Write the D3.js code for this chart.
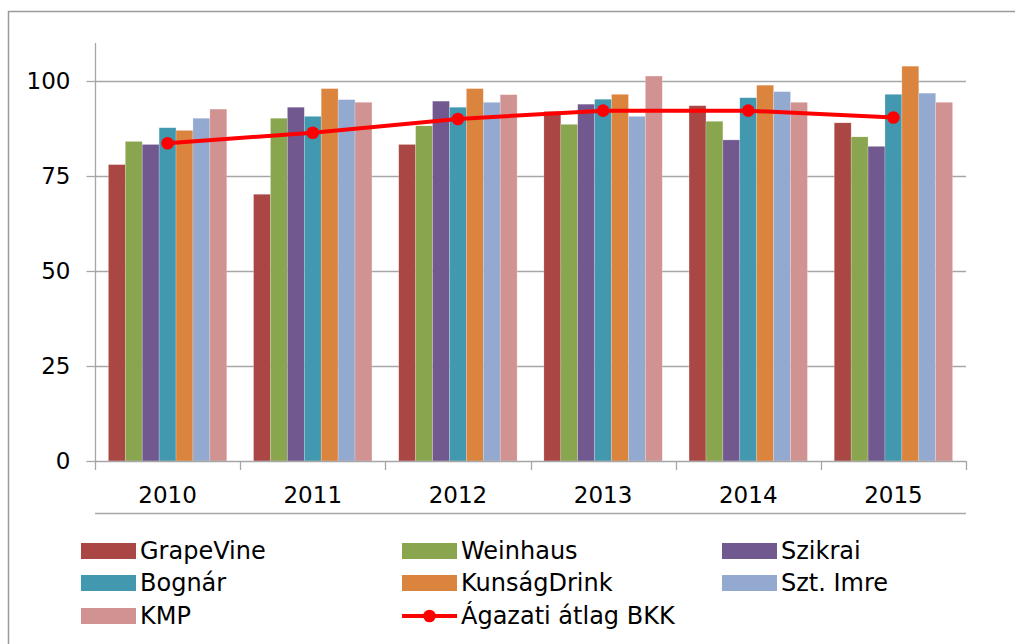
<!DOCTYPE html>
<html><head><meta charset="utf-8">
<script src="https://cdn.jsdelivr.net/npm/d3@7"></script>
<style>body{margin:0;background:#fff}svg{display:block}text{font-family:"DejaVu Sans",sans-serif;fill:#000}</style>
</head><body>
<svg id="c" width="1015" height="644"></svg>
<script>
const years = ["2010","2011","2012","2013","2014","2015"];
const seriesNames = ["GrapeVine","Weinhaus","Szikrai","Bognár","KunságDrink","Szt. Imre","KMP"];
const grapeVine   = [78.0, 70.2, 83.3, 92.0, 93.5, 89.0];
const weinhaus    = [84.1, 90.2, 88.2, 88.6, 89.4, 85.3];
const szikrai     = [83.3, 93.1, 94.7, 93.9, 84.5, 82.8];
const bognar      = [87.7, 90.7, 93.1, 95.2, 95.6, 96.5];
const kunsagDrink = [87.0, 98.0, 98.0, 96.5, 98.9, 103.9];
const sztImre     = [90.2, 95.1, 94.4, 90.7, 97.2, 96.8];
const kmp         = [92.6, 94.4, 96.4, 101.3, 94.4, 94.4];
const average     = [83.6, 86.4, 90.0, 92.2, 92.2, 90.4];
const averageName = "Ágazati átlag BKK";
const yTicks = [0, 25, 50, 75, 100];
const colors = ["#AA4643","#89A54E","#71588F","#4198AF","#DB843D","#93A9CF","#D19392"];

const seriesValues = [grapeVine, weinhaus, szikrai, bognar, kunsagDrink, sztImre, kmp];
const svg = d3.select("#c");
const gridColor = "#a6a6a6";

// outer frame
svg.append("path").attr("d","M8.5,644 V11.5 H1015").attr("fill","none").attr("stroke","#9a9a9a").attr("stroke-width",1.5);

const x0 = d3.scaleBand().domain(years).range([95, 966]).paddingInner(0).paddingOuter(0);
const x1 = d3.scaleBand().domain(seriesNames).range([13.4, x0.bandwidth()-13.4]);
const y = d3.scaleLinear().domain([0, 110]).range([461, 43]);

// gridlines
svg.append("g").selectAll("line").data(yTicks.filter(d=>d>0)).join("line")
  .attr("x1",95).attr("x2",966).attr("y1",d=>Math.round(y(d))+0.5).attr("y2",d=>Math.round(y(d))+0.5)
  .attr("stroke",gridColor).attr("stroke-width",1.3);

// y axis
const yAxis = svg.append("g").attr("transform","translate(95.5,0)")
  .call(d3.axisLeft(y).tickValues(yTicks).tickSize(9).tickPadding(16));
yAxis.select(".domain").attr("stroke",gridColor).attr("stroke-width",1.3).attr("d","M0,43V461");
yAxis.selectAll(".tick line").attr("stroke",gridColor).attr("stroke-width",1.3);
yAxis.selectAll(".tick text").attr("font-size",23).attr("font-family","DejaVu Sans").attr("fill","#000");

// bars
const groups = svg.append("g").selectAll("g").data(years).join("g")
  .attr("transform",d=>`translate(${x0(d)},0)`);
groups.selectAll("rect").data((yr,i)=>seriesNames.map((s,j)=>({s, j, v: seriesValues[j][i]}))).join("rect")
  .attr("x",d=>x1(d.s)).attr("width",x1.bandwidth())
  .attr("y",d=>y(d.v)).attr("height",d=>y(0)-y(d.v))
  .attr("fill",d=>colors[d.j]).attr("stroke","rgba(255,255,255,0.35)").attr("stroke-width",0.6);

// x axis
const xAxis = svg.append("g").attr("transform","translate(0,461.5)")
  .call(d3.axisBottom(x0).tickSize(0).tickPadding(25));
xAxis.select(".domain").attr("stroke",gridColor).attr("stroke-width",1.3).attr("d","M95,0H966");
xAxis.selectAll(".tick text").attr("font-size",23).attr("font-family","DejaVu Sans").attr("fill","#000");
svg.append("g").selectAll("line").data(d3.range(years.length+1)).join("line")
  .attr("x1",i=>Math.round(95+i*x0.step())+0.5).attr("x2",i=>Math.round(95+i*x0.step())+0.5)
  .attr("y1",461).attr("y2",470).attr("stroke",gridColor).attr("stroke-width",1.3);
svg.append("line").attr("x1",95).attr("x2",966).attr("y1",513.5).attr("y2",513.5)
  .attr("stroke",gridColor).attr("stroke-width",1.3);

// average line
const cx = d => x0(d) + x0.bandwidth()/2;
svg.append("path").datum(years).attr("fill","none").attr("stroke","#FF0000").attr("stroke-width",4)
  .attr("d", d3.line().x(cx).y((d,i)=>y(average[i])));
svg.append("g").selectAll("circle").data(years).join("circle")
  .attr("cx",cx).attr("cy",(d,i)=>y(average[i])).attr("r",6.3).attr("fill","#FF0000");

// legend
const legendItems = seriesNames.map((s,i)=>({name:s, color:colors[i], type:"bar"}))
  .concat([{name:averageName, color:"#FF0000", type:"line"}]);
const colX = [81, 402, 722];
const rowY = [551, 583, 616];
const leg = svg.append("g").selectAll("g").data(legendItems).join("g")
  .attr("transform",(d,i)=>`translate(${colX[i%3]},${rowY[Math.floor(i/3)]})`);
leg.filter(d=>d.type==="bar").append("rect").attr("x",0).attr("y",-8).attr("width",55).attr("height",16).attr("fill",d=>d.color);
leg.filter(d=>d.type==="line").append("line").attr("x1",0).attr("x2",55).attr("y1",0).attr("y2",0).attr("stroke",d=>d.color).attr("stroke-width",4);
leg.filter(d=>d.type==="line").append("circle").attr("cx",27.5).attr("cy",0).attr("r",6.3).attr("fill",d=>d.color);
leg.append("text").attr("x",59).attr("y",7.5).attr("font-size",24).text(d=>d.name);
</script>
</body></html>
